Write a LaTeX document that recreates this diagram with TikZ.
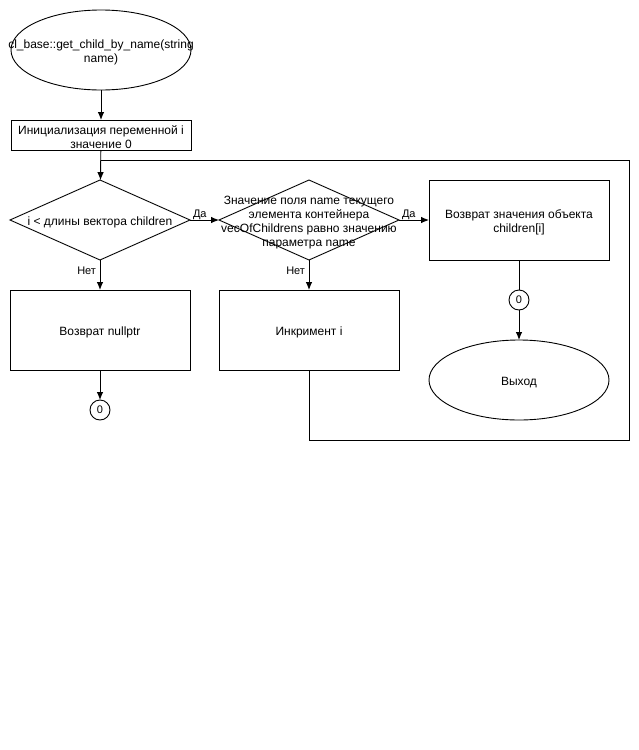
\documentclass[tikz,border=0pt]{standalone}
\usepackage{fontspec}
\setmainfont{Liberation Sans}
\usetikzlibrary{arrows.meta,shapes.geometric}
\tikzset{%
  >={Latex[length=8pt,width=6.5pt]},
  outer sep=0pt,%
  every node/.style={font=\fontsize{12}{14}\selectfont},%
  txt/.style={label={[align=center,yshift=-2.5pt]center:#1}},%
  term/.style={draw,ellipse,minimum width=180pt,minimum height=80pt,inner sep=0pt},%
  proc/.style={draw,rectangle,minimum width=180pt,inner sep=0pt},%
  cond/.style={draw,diamond,minimum width=180pt,minimum height=80pt,
    inner sep=0pt,aspect=2.25},%
  conn/.style={draw,circle,minimum size=20pt,inner sep=0pt,
    font=\fontsize{11}{13}\selectfont},%
  yesno/.style={font=\fontsize{11}{13}\selectfont,inner sep=0pt}%
}
\begin{document}
\begin{tikzpicture}[x=1pt,y=-1pt,line width=0.9pt]
\useasboundingbox (0,0) rectangle (639,750);

% start and init
\node[term,txt={cl\_base::get\_child\_by\_name(string\\name)}] (start) at (101,50) {};
\node[proc,minimum height=30pt,txt={Инициализация переменной i\\значение 0}] (init) at (101,135) {};

% conditions
\node[cond,txt={i < длины вектора children}] (c1) at (100,220) {};
\node[cond,txt={Значение поля name текущего\\элемента контейнера\\vecOfChildrens равно значению\\параметра name}] (c2) at (309,220) {};

% actions
\node[proc,minimum height=80pt,txt={Возврат значения объекта\\children[i]}] (ret) at (519,220) {};
\node[proc,minimum height=80pt,txt={Возврат nullptr}] (null) at (100,330) {};
\node[proc,minimum height=80pt,txt={Инкримент i}] (inc) at (309,330) {};

% connectors and exit
\node[conn] (z1) at (519,300) {0};
\node[conn] (z2) at (100,410) {0};
\node[term,txt={Выход}] (exit) at (519,380) {};

\coordinate (merge) at (101,160);
\coordinate (loopdn) at (309,440);
\coordinate (loopup) at (629,160);

\draw[->] (start) -- (init);
\draw[->] (init) -- (c1);
\draw[->] (c1.east) -- (c2.west) node[yesno,pos=0,anchor=south west,xshift=3pt,yshift=0pt] {Да};
\draw[->] (c2.east) -- (ret.west) node[yesno,pos=0,anchor=south west,xshift=3pt,yshift=0pt] {Да};
\draw[->] (c1.south) -- (null.north) node[yesno,pos=0.35,anchor=east,xshift=-4pt] {Нет};
\draw[->] (c2.south) -- (inc.north) node[yesno,pos=0.35,anchor=east,xshift=-4pt] {Нет};
\draw (ret) -- (z1);
\draw[->] (z1) -- (exit);
\draw[->] (null) -- (z2);
\draw (inc) -- (loopdn) -| (loopup) -- (merge);
\end{tikzpicture}
\end{document}
